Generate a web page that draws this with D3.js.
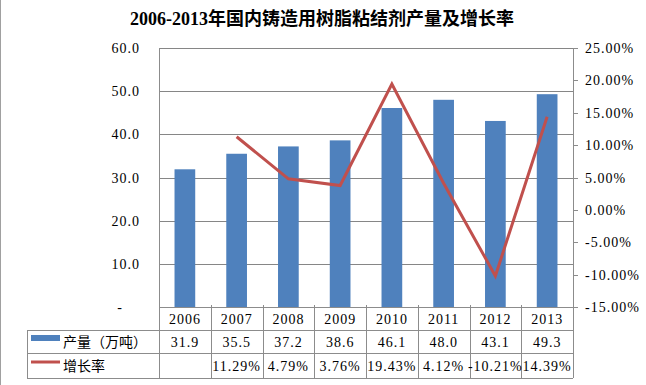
<!DOCTYPE html>
<html>
<head>
<meta charset="utf-8">
<script src="https://cdn.jsdelivr.net/npm/d3@7"></script>
<style>
  body { margin: 0; background: #fff; }
  text { font-family: "Liberation Serif", "Noto Sans CJK SC", serif; }
</style>
</head>
<body>
<div id="chart"></div>
<script>
(function () {
    // Chart data
    const years = ["2006", "2007", "2008", "2009", "2010", "2011", "2012", "2013"];
    const output = [31.9, 35.5, 37.2, 38.6, 46.1, 48.0, 43.1, 49.3];        // 产量（万吨）
    const growth = [null, 0.1129, 0.0479, 0.0376, 0.1943, 0.0412, -0.1021, 0.1439]; // 增长率
    const leftTicks = [0, 10, 20, 30, 40, 50, 60];
    const rightTicks = [-0.15, -0.10, -0.05, 0, 0.05, 0.10, 0.15, 0.20, 0.25];

    const width = 646, height = 385;
    const plotLeft = 159, plotRight = 573, plotTop = 48, plotBottom = 307;
    const rowLines = [330, 353, 378];
    const tableLeft = 27;
    const gridColor = "#868686";
    const tableColor = "#8c8c8c";

    const svg = d3.select("#chart")
        .append("svg")
        .attr("width", width)
        .attr("height", height);

    // chart frame (left edge)
    svg.append("line")
        .attr("x1", 0.5).attr("x2", 0.5)
        .attr("y1", 0).attr("y2", height)
        .attr("stroke", "#a0a0a0");

    // Scales
    const x = d3.scaleBand().domain(years).range([plotLeft, plotRight]).padding(0);
    const yLeft = d3.scaleLinear().domain([0, 60]).range([plotBottom, plotTop]);
    const yRight = d3.scaleLinear().domain([-0.15, 0.25]).range([plotBottom, plotTop]);

    // Title
    svg.append("text")
        .attr("x", 322)
        .attr("y", 25)
        .attr("text-anchor", "middle")
        .attr("font-size", "18px")
        .attr("font-weight", "bold")
        .attr("fill", "#000")
        .text("2006-2013年国内铸造用树脂粘结剂产量及增长率");

    // Gridlines
    svg.append("g")
        .selectAll("line")
        .data(leftTicks.filter(d => d > 0))
        .enter()
        .append("line")
        .attr("x1", plotLeft).attr("x2", plotRight)
        .attr("y1", d => Math.round(yLeft(d)) + 0.5)
        .attr("y2", d => Math.round(yLeft(d)) + 0.5)
        .attr("stroke", gridColor);

    // Left axis labels
    svg.append("g")
        .selectAll("text")
        .data(leftTicks)
        .enter()
        .append("text")
        .attr("x", d => d === 0 ? 120 : 140)
        .attr("y", d => yLeft(d) + 5)
        .attr("text-anchor", d => d === 0 ? "middle" : "end")
        .attr("font-size", "14px")
        .attr("letter-spacing", "1px")
        .attr("fill", "#000")
        .text(d => d === 0 ? "-" : d.toFixed(1));

    // Right axis labels + ticks
    svg.append("g")
        .selectAll("line")
        .data(rightTicks)
        .enter()
        .append("line")
        .attr("x1", plotRight).attr("x2", plotRight + 5)
        .attr("y1", d => Math.round(yRight(d)) + 0.5)
        .attr("y2", d => Math.round(yRight(d)) + 0.5)
        .attr("stroke", tableColor);

    svg.append("g")
        .selectAll("text")
        .data(rightTicks)
        .enter()
        .append("text")
        .attr("x", 585)
        .attr("y", d => yRight(d) + 5)
        .attr("font-size", "14px")
        .attr("letter-spacing", "1px")
        .attr("fill", "#000")
        .text(d => (d * 100).toFixed(2) + "%");

    // Bars
    const barWidth = x.bandwidth() / 2.5;
    svg.append("g")
        .selectAll("rect")
        .data(years)
        .enter()
        .append("rect")
        .attr("x", (d, i) => x(d) + (x.bandwidth() - barWidth) / 2)
        .attr("y", (d, i) => yLeft(output[i]))
        .attr("width", barWidth)
        .attr("height", (d, i) => plotBottom - yLeft(output[i]))
        .attr("fill", "#4F81BD");

    // Growth line
    const line = d3.line()
        .defined(d => d.v !== null)
        .x(d => x(d.year) + x.bandwidth() / 2)
        .y(d => yRight(d.v));

    svg.append("path")
        .datum(years.map((year, i) => ({ year: year, v: growth[i] })))
        .attr("d", line)
        .attr("fill", "none")
        .attr("stroke", "#C0504D")
        .attr("stroke-width", 3)
        .attr("stroke-linejoin", "miter");

    // Data table lines
    const table = svg.append("g").attr("stroke", tableColor).attr("shape-rendering", "crispEdges");
    table.append("line")
        .attr("x1", plotLeft).attr("x2", plotRight)
        .attr("y1", plotBottom + 0.5).attr("y2", plotBottom + 0.5);
    rowLines.forEach(y => {
        table.append("line")
            .attr("x1", tableLeft).attr("x2", plotRight)
            .attr("y1", y + 0.5).attr("y2", y + 0.5);
    });
    table.append("line")
        .attr("x1", tableLeft + 0.5).attr("x2", tableLeft + 0.5)
        .attr("y1", rowLines[0]).attr("y2", rowLines[2]);
    table.append("line")
        .attr("x1", plotLeft + 0.5).attr("x2", plotLeft + 0.5)
        .attr("y1", plotTop).attr("y2", rowLines[2]);
    table.append("line")
        .attr("x1", plotRight + 0.5).attr("x2", plotRight + 0.5)
        .attr("y1", plotTop).attr("y2", rowLines[2]);
    years.slice(1).forEach(year => {
        const xx = Math.round(x(year)) + 0.5;
        table.append("line")
            .attr("x1", xx).attr("x2", xx)
            .attr("y1", plotBottom - 2).attr("y2", rowLines[2]);
    });

    // Table text
    const cell = (row, y, fmt) => {
        svg.append("g")
            .selectAll("text")
            .data(years)
            .enter()
            .append("text")
            .attr("x", d => x(d) + x.bandwidth() / 2)
            .attr("y", y)
            .attr("text-anchor", "middle")
            .attr("font-size", "14px")
            .attr("letter-spacing", "1px")
            .attr("fill", "#000")
            .text((d, i) => fmt(row[i], d));
    };
    cell(years, 324, v => v);
    cell(output, 347, v => v.toFixed(1));
    cell(growth, 371, v => v === null ? "" : (v * 100).toFixed(2) + "%");

    // Legend keys in table
    svg.append("rect")
        .attr("x", 31).attr("y", 335)
        .attr("width", 29).attr("height", 6)
        .attr("fill", "#4F81BD");
    svg.append("text")
        .attr("x", 63).attr("y", 347)
        .attr("font-size", "14px")
        .attr("fill", "#000")
        .text("产量（万吨）");
    svg.append("line")
        .attr("x1", 31).attr("x2", 60)
        .attr("y1", 362).attr("y2", 362)
        .attr("stroke", "#C0504D")
        .attr("stroke-width", 3);
    svg.append("text")
        .attr("x", 63).attr("y", 371)
        .attr("font-size", "14px")
        .attr("fill", "#000")
        .text("增长率");
})();
</script>
</body>
</html>
